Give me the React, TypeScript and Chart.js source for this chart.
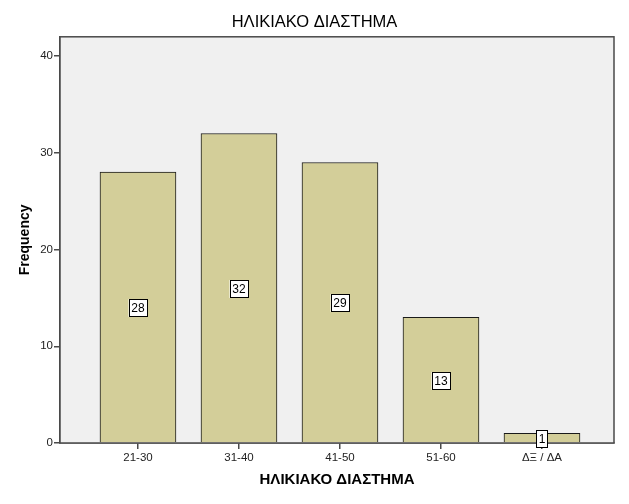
import React, { useEffect, useRef } from "react";
import { Chart, registerables } from "chart.js";

Chart.register(...registerables);

const categories = ["21-30", "31-40", "41-50", "51-60", "ΔΞ / ΔΑ"];
const frequencies = [28, 32, 29, 13, 1];
const yTicks = [0, 10, 20, 30, 40];

const FONT = "'Liberation Sans', Arial, sans-serif";

const framePlugin = {
  id: "frame",
  beforeDatasetsDraw(chart: any) {
    const { ctx, chartArea } = chart;
    ctx.save();
    ctx.fillStyle = "#f0f0f0";
    ctx.fillRect(chartArea.left, chartArea.top, chartArea.right - chartArea.left, chartArea.bottom - chartArea.top);
    ctx.restore();
  },
  afterDatasetsDraw(chart: any) {
    const { ctx, chartArea } = chart;
    ctx.save();
    ctx.strokeStyle = "#4a4a4a";
    ctx.lineWidth = 1.5;
    ctx.strokeRect(chartArea.left, chartArea.top, chartArea.right - chartArea.left, chartArea.bottom - chartArea.top);
    // value labels
    const meta = chart.getDatasetMeta(0);
    ctx.font = `12px ${FONT}`;
    ctx.textAlign = "center";
    ctx.textBaseline = "middle";
    meta.data.forEach((el: any, i: number) => {
      const txt = String(frequencies[i]);
      const cx = Math.round(el.x);
      const cy = Math.round((el.y + el.base) / 2) + 1;
      const w = Math.ceil(ctx.measureText(txt).width) + 5;
      const h = 18;
      ctx.fillStyle = "#ffffff";
      ctx.fillRect(cx - w / 2, cy - h / 2, w, h);
      ctx.strokeStyle = "#000000";
      ctx.lineWidth = 1;
      ctx.strokeRect(Math.round(cx - w / 2) + 0.5, Math.round(cy - h / 2) + 0.5, Math.round(w) - 1, h - 1);
      ctx.fillStyle = "#000000";
      ctx.fillText(txt, cx, cy + 1);
    });
    ctx.restore();
  },
};

export default function App() {
  const ref = useRef<HTMLCanvasElement | null>(null);
  useEffect(() => {
    if (!ref.current) return;
    const chart = new Chart(ref.current, {
      type: "bar",
      data: {
        datasets: [
          {
            data: frequencies.map((v, i) => ({ x: i, y: v })),
            backgroundColor: "#d3ce99",
            borderColor: "#1a1a1a",
            borderWidth: 1,
            barThickness: 76,
            xAxisID: "x",
            yAxisID: "y",
          } as any,
        ],
      },
      plugins: [framePlugin],
      options: {
        responsive: false,
        animation: false,
        layout: { padding: 0 },
        plugins: {
          legend: { display: false },
          tooltip: { enabled: false },
          title: {
            display: true,
            text: "ΗΛΙΚΙΑΚΟ ΔΙΑΣΤΗΜΑ",
            color: "#000",
            font: { family: FONT, size: 16.5, weight: "normal" },
            padding: { top: 13, bottom: 4 },
          },
        },
        scales: {
          x: {
            type: "linear",
            offset: false,
            min: -0.772,
            max: 4.713,
            afterBuildTicks: (s: any) => {
              s.ticks = categories.map((_, i) => ({ value: i }));
            },
            afterFit: (s: any) => {
              s.height = 61;
            },
            ticks: {
              callback: (v: any) => categories[Math.round(Number(v))] ?? "",
              color: "#222",
              font: { family: FONT, size: 11.5 },
              padding: 2,
              autoSkip: false,
              maxRotation: 0,
            },
            grid: {
              display: true,
              offset: false,
              drawOnChartArea: false,
              drawTicks: true,
              tickLength: 6,
              color: "#4a4a4a",
              lineWidth: 1.5,
            },
            border: { display: true, color: "#4a4a4a", width: 1.5 },
            title: {
              display: true,
              text: "ΗΛΙΚΙΑΚΟ ΔΙΑΣΤΗΜΑ",
              color: "#000",
              font: { family: FONT, size: 15, weight: "bold" },
              padding: { top: 0, bottom: 15 },
            },
          } as any,
          y: {
            type: "linear",
            position: "left",
            min: 0,
            max: 42,
            afterBuildTicks: (s: any) => {
              s.ticks = yTicks.map((v) => ({ value: v }));
            },
            afterFit: (s: any) => {
              s.width = 60;
            },
            ticks: {
              color: "#222",
              font: { family: FONT, size: 11.5 },
              padding: 1,
            },
            grid: {
              display: true,
              offset: false,
              drawOnChartArea: false,
              drawTicks: true,
              tickLength: 6,
              color: "#4a4a4a",
              lineWidth: 1.5,
            },
            border: { display: true, color: "#4a4a4a", width: 1.5 },
            title: {
              display: true,
              text: "Frequency",
              color: "#000",
              font: { family: FONT, size: 14, weight: "bold" },
              padding: { top: 17, bottom: 0 },
            },
          } as any,
          yRight: {
            type: "linear",
            position: "right",
            display: true,
            min: 0,
            max: 42,
            afterFit: (s: any) => {
              s.width = 15;
            },
            ticks: { display: false },
            grid: { display: false, drawOnChartArea: false },
            border: { display: false },
            title: { display: false },
          } as any,
        },
      },
    });
    return () => chart.destroy();
  }, []);
  return (
    <div style={{ position: "absolute", left: 0, top: 0, width: 629, height: 504, background: "#fff" }}>
      <canvas ref={ref} width={629} height={504} />
    </div>
  );
}
